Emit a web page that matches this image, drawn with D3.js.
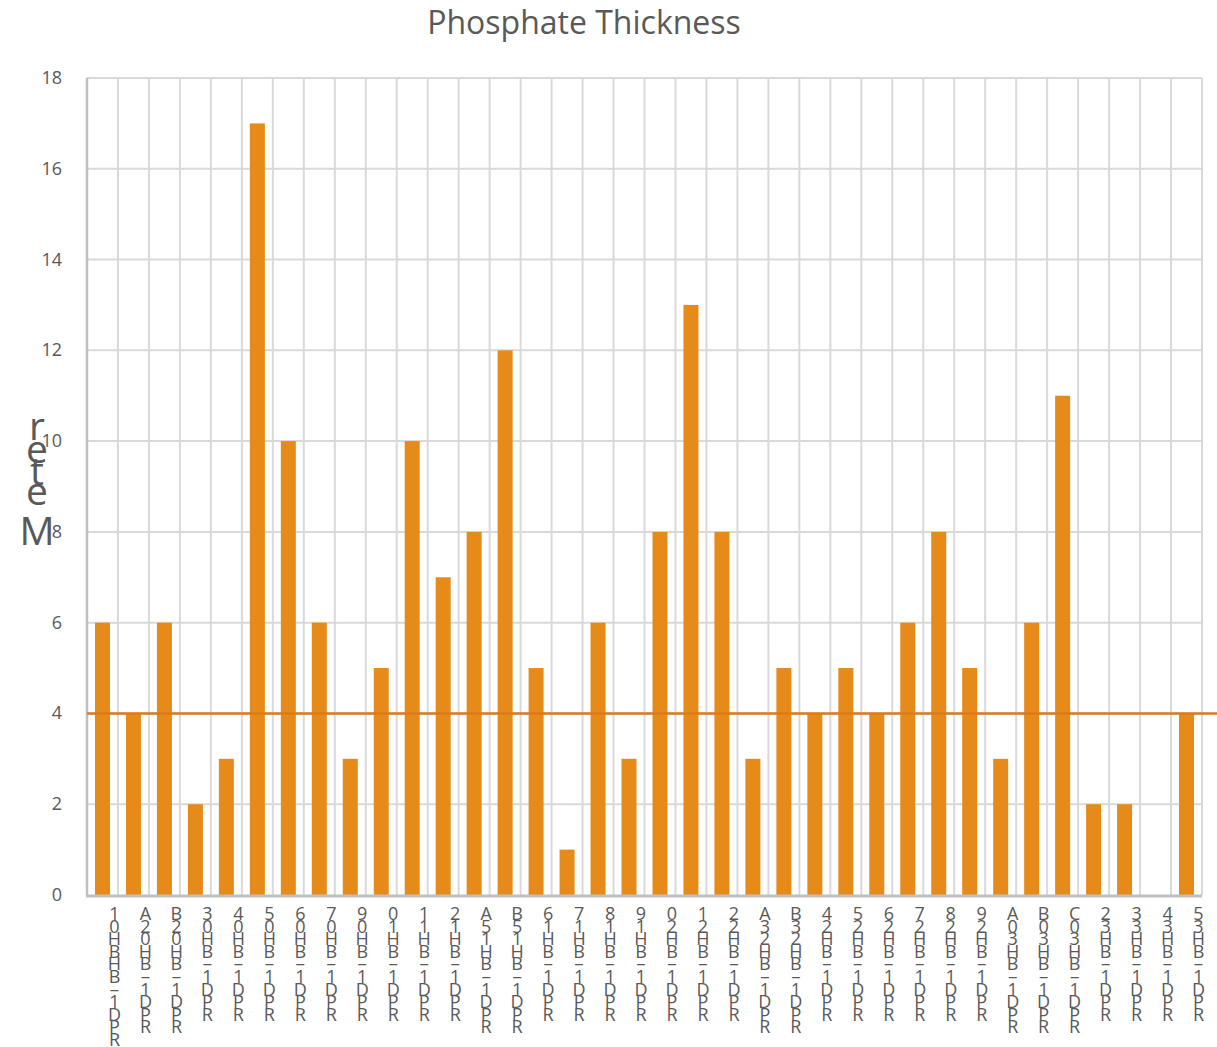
<!DOCTYPE html>
<html><head><meta charset="utf-8">
<script src="https://cdn.jsdelivr.net/npm/d3@7"></script>
<style>body{margin:0;background:#fff;} svg{display:block;font-family:"Open Sans",sans-serif;}</style>
</head><body>
<svg id="c" width="1217" height="1047"></svg>
<script>
const categories = ["10HBHB_1DPR","A20HB_1DPR","B20HB_1DPR","30HB_1DPR","40HB_1DPR","50HB_1DPR","60HB_1DPR","70HB_1DPR","90HB_1DPR","01HB_1DPR","11HB_1DPR","21HB_1DPR","A51HB_1DPR","B51HB_1DPR","61HB_1DPR","71HB_1DPR","81HB_1DPR","91HB_1DPR","02HB_1DPR","12HB_1DPR","22HB_1DPR","A32HB_1DPR","B32HB_1DPR","42HB_1DPR","52HB_1DPR","62HB_1DPR","72HB_1DPR","82HB_1DPR","92HB_1DPR","A03HB_1DPR","B03HB_1DPR","C03HB_1DPR","23HB_1DPR","33HB_1DPR","43HB_1DPR","53HB_1DPR"];
const values = [6,4,6,2,3,17,10,6,3,5,10,7,8,12,5,1,6,3,8,13,8,3,5,4,5,4,6,8,5,3,6,11,2,2,0,4];
const yTicks = [0,2,4,6,8,10,12,14,16,18];
const referenceValue = 4;
const title = "Phosphate Thickness";
const yLabel = "Meter";

const svg = d3.select("#c");
const L = 87, R = 1202, T = 78, B = 895;
const xb = d3.scaleBand().domain(categories).range([L, R]);
const y = d3.scaleLinear().domain([0, 18]).range([B, T]);
const grey = "#595959";

// horizontal gridlines
svg.append("g").selectAll("line").data(yTicks.filter(d => d > 0)).join("line")
  .attr("x1", L).attr("x2", R).attr("y1", d => y(d)).attr("y2", d => y(d))
  .attr("stroke", "#d9d9d9").attr("stroke-width", 2);
// vertical gridlines
svg.append("g").selectAll("line").data(categories.slice(1).concat(["__end"])).join("line")
  .attr("x1", d => d === "__end" ? R : xb(d)).attr("x2", d => d === "__end" ? R : xb(d))
  .attr("y1", T).attr("y2", B).attr("stroke", "#d9d9d9").attr("stroke-width", 2);

// bars
svg.append("g").selectAll("rect").data(values).join("rect")
  .attr("x", (d, i) => xb(categories[i]) + xb.bandwidth() / 2 - 7.5)
  .attr("width", 15)
  .attr("y", d => y(d)).attr("height", d => B - y(d))
  .attr("fill", "#e68a19");

// axes lines
svg.append("line").attr("x1", L).attr("x2", L).attr("y1", T).attr("y2", B).attr("stroke", "#bfbfbf").attr("stroke-width", 2.5);
svg.append("line").attr("x1", L - 1).attr("x2", R).attr("y1", B + 1).attr("y2", B + 1).attr("stroke", "#bfbfbf").attr("stroke-width", 3);

// reference line
svg.append("line").attr("x1", L).attr("x2", 1217).attr("y1", y(referenceValue)).attr("y2", y(referenceValue))
  .attr("stroke", "#dc7a1a").attr("stroke-width", 2.5);

// y tick labels
svg.append("g").selectAll("text").data(yTicks).join("text")
  .attr("x", 62).attr("y", d => y(d) + 6).attr("text-anchor", "end")
  .attr("font-size", 18).attr("fill", grey).text(d => d);

// x labels, stacked characters
const xl = svg.append("g").selectAll("text").data(categories).join("text")
  .attr("font-size", 18).attr("fill", grey).attr("text-anchor", "middle");
xl.each(function(d) {
  const cx = xb(d) + xb.bandwidth() / 2 + 12;
  const t = d3.select(this);
  d.split("").forEach((ch, k) => {
    const yy = 920 + k * 12.6 - (ch === "_" ? 8 : 0);
    t.append("tspan").attr("x", cx).attr("y", yy).text(ch);
  });
});

// title
svg.append("text").attr("x", 584).attr("y", 34).attr("text-anchor", "middle")
  .attr("font-size", 32).attr("fill", grey).text(title);

// y label: stacked, bottom to top
const ylBase = [545, 505, 485, 463, 440];
const yl = svg.append("text").attr("font-size", 39).attr("fill", grey).attr("text-anchor", "middle");
yLabel.split("").forEach((ch, k) => {
  yl.append("tspan").attr("x", 37).attr("y", ylBase[k]).text(ch);
});
</script>
</body></html>
